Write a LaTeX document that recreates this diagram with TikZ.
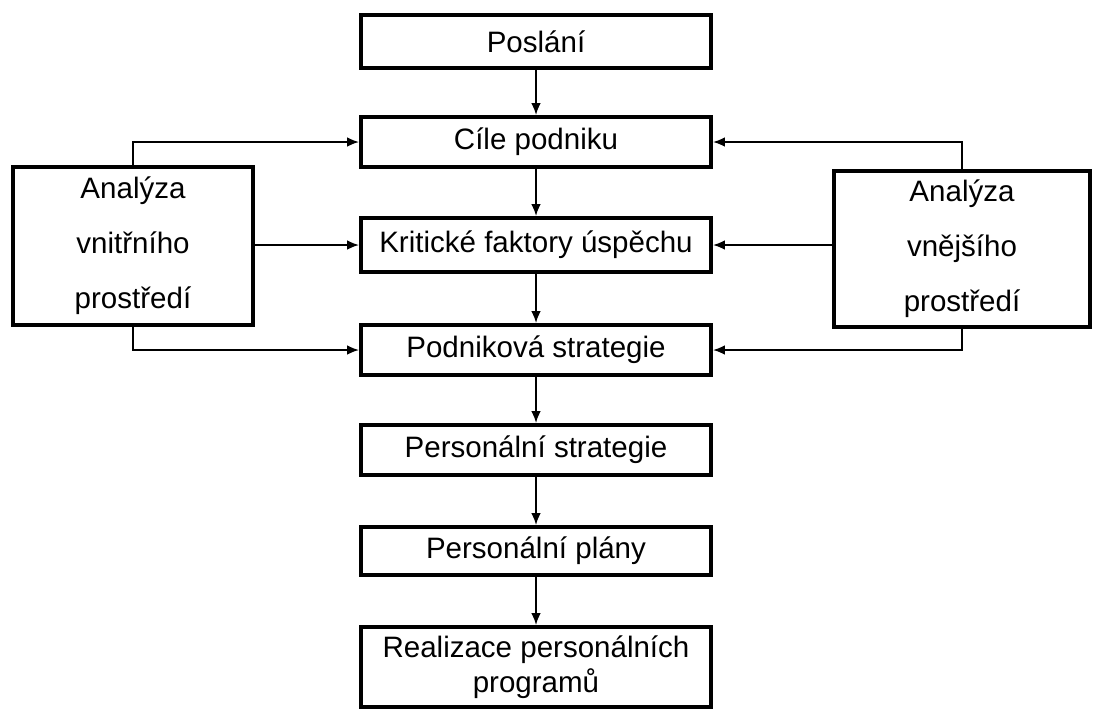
\documentclass[tikz,border=0pt]{standalone}
\usepackage{fontspec}
\setmainfont{Liberation Sans}
\usetikzlibrary{arrows.meta}

\begin{document}
\begin{tikzpicture}[>={Latex[length=3mm,width=2.4mm]}, font=\fontsize{21}{25}\selectfont]
  % Styles
  \tikzset{
    krok/.style={draw, line width=2.6pt, minimum width=8.75cm, inner sep=0pt, align=center},
    analyza/.style={draw, line width=2.6pt, inner sep=0pt, align=center,
      font=\fontsize{21}{39}\selectfont},
    sipka/.style={->, line width=1.5pt}
  }
  \useasboundingbox (0,0) rectangle (27.475,-17.825);

  % --- Main chain ---
  \node[krok, minimum height=1.33cm] (poslani) at (13.4, -1.04) {Poslání};
  \node[krok, minimum height=1.25cm] (cile) at (13.4, -3.55) {Cíle podniku};
  \node[krok, minimum height=1.35cm] (faktory) at (13.4, -6.125) {Kritické faktory úspěchu};
  \node[krok, minimum height=1.25cm] (podnik) at (13.4, -8.75) {Podniková strategie};
  \node[krok, minimum height=1.25cm] (perstrat) at (13.4, -11.25) {Personální strategie};
  \node[krok, minimum height=1.2cm] (plany) at (13.4, -13.775) {Personální plány};
  \node[krok, minimum height=2.0cm] (realizace) at (13.4, -16.675)
    {Realizace personálních\\programů};

  % --- Analyses ---
  \node[analyza, minimum width=6cm, minimum height=3.95cm] (vnitrni) at (3.325, -6.15)
    {Analýza\\vnitřního\\prostředí};
  \node[analyza, minimum width=6.4cm, minimum height=3.9cm] (vnejsi) at (24.05, -6.22)
    {Analýza\\vnějšího\\prostředí};

  % --- Connectors ---
  \draw[sipka] (poslani) -- (cile);
  \draw[sipka] (cile) -- (faktory);
  \draw[sipka] (faktory) -- (podnik);
  \draw[sipka] (podnik) -- (perstrat);
  \draw[sipka] (perstrat) -- (plany);
  \draw[sipka] (plany) -- (realizace);

  \draw[sipka] (vnitrni.north) |- (cile.west);
  \draw[sipka] (vnitrni.east |- faktory.west) -- (faktory.west);
  \draw[sipka] (vnitrni.south) |- (podnik.west);

  \draw[sipka] (vnejsi.north) |- (cile.east);
  \draw[sipka] (vnejsi.west |- faktory.east) -- (faktory.east);
  \draw[sipka] (vnejsi.south) |- (podnik.east);

\end{tikzpicture}
\end{document}
